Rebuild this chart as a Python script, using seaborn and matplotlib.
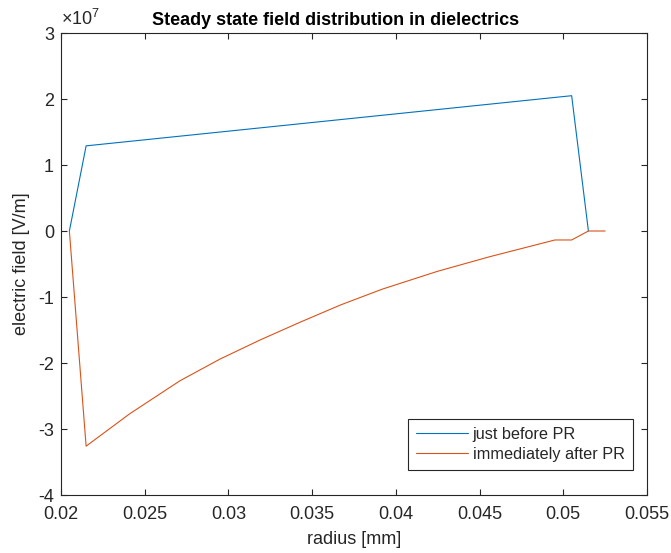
import matplotlib
matplotlib.use("Agg")
import matplotlib.pyplot as plt
import matplotlib.ticker as mticker
import pandas as pd
import seaborn as sns

# Radius [mm] and electric field [V/m] for the two states
r_before = [0.0205, 0.0215, 0.0505, 0.0515]
e_before = [0.0, 1.29e7, 2.05e7, 0.0]

r_after = [0.0205, 0.0215, 0.0241, 0.0271, 0.0295, 0.0319, 0.0343, 0.0367,
           0.0392, 0.0425, 0.0456, 0.0495, 0.0505, 0.0515, 0.0525]
e_after = [0.0, -3.26e7, -2.77e7, -2.27e7, -1.94e7, -1.65e7, -1.38e7, -1.12e7,
           -0.88e7, -0.61e7, -0.39e7, -0.136e7, -0.136e7, 0.0, 0.0]

series_names = ["just before PR", "immediately after PR"]
x_ticks = [0.02, 0.025, 0.03, 0.035, 0.04, 0.045, 0.05, 0.055]
x_tick_labels = ["0.02", "0.025", "0.03", "0.035", "0.04", "0.045", "0.05", "0.055"]
y_ticks = [-4e7, -3e7, -2e7, -1e7, 0, 1e7, 2e7, 3e7]
y_scale = 1e7

sns.set_theme(style="white")
plt.rcParams["font.family"] = ["Liberation Sans", "DejaVu Sans"]
plt.rcParams["axes.unicode_minus"] = False
plt.rcParams["mathtext.fontset"] = "custom"
plt.rcParams["mathtext.rm"] = "Liberation Sans"
plt.rcParams["mathtext.it"] = "Liberation Sans:italic"

df_before = pd.DataFrame({"radius": r_before, "field": e_before})
df_after = pd.DataFrame({"radius": r_after, "field": e_after})

fig = plt.figure(figsize=(6.71, 5.53), dpi=100)
ax = fig.add_axes([61 / 671, 58 / 553, 586 / 671, 462 / 553])

palette = ["#0072BD", "#D95319"]
for d, name, col in [(df_before, series_names[0], palette[0]),
                     (df_after, series_names[1], palette[1])]:
    sns.lineplot(data=d, x="radius", y="field", sort=False, estimator=None,
                 color=col, linewidth=0.8, ax=ax, label=name)

ax.set_xlim(0.02, 0.055)
ax.set_ylim(-4e7, 3e7)
ax.set_xticks(x_ticks)
ax.set_xticklabels(x_tick_labels)
ax.set_yticks(y_ticks)
ax.yaxis.set_major_formatter(mticker.FuncFormatter(lambda v, p: f"{v / y_scale:g}"))

axis_col = "#262626"
for sp in ax.spines.values():
    sp.set_visible(True)
    sp.set_color(axis_col)
    sp.set_linewidth(0.8)
ax.tick_params(direction="in", length=4, width=0.8, colors=axis_col,
               labelsize=13, top=True, right=True, bottom=True, left=True)
ax.tick_params(axis="x", pad=8)
ax.tick_params(axis="y", pad=5)

# exponent label for the y axis
ax.text(0.0, 1.008, r"$\times$10$^{7}$", transform=ax.transAxes, fontsize=13,
        color=axis_col, ha="left", va="bottom")

ax.set_xlabel("radius [mm]", fontsize=13, color=axis_col, labelpad=6)
ax.set_ylabel("electric field [V/m]", fontsize=13, color=axis_col, labelpad=6)
ax.set_title("Steady state field distribution in dielectrics", fontsize=13,
             fontweight="bold", color="black", pad=6, x=0.469)
ax.grid(False)

leg = ax.legend(loc="lower right", bbox_to_anchor=(0.976, 0.054),
                borderaxespad=0, fontsize=11.7, frameon=True, fancybox=False,
                framealpha=1, edgecolor=axis_col, handlelength=3.2,
                handletextpad=0.3, borderpad=0.5, labelspacing=0.32)
leg.get_frame().set_linewidth(0.8)

fig.savefig("out.png", dpi=100, facecolor="white")
